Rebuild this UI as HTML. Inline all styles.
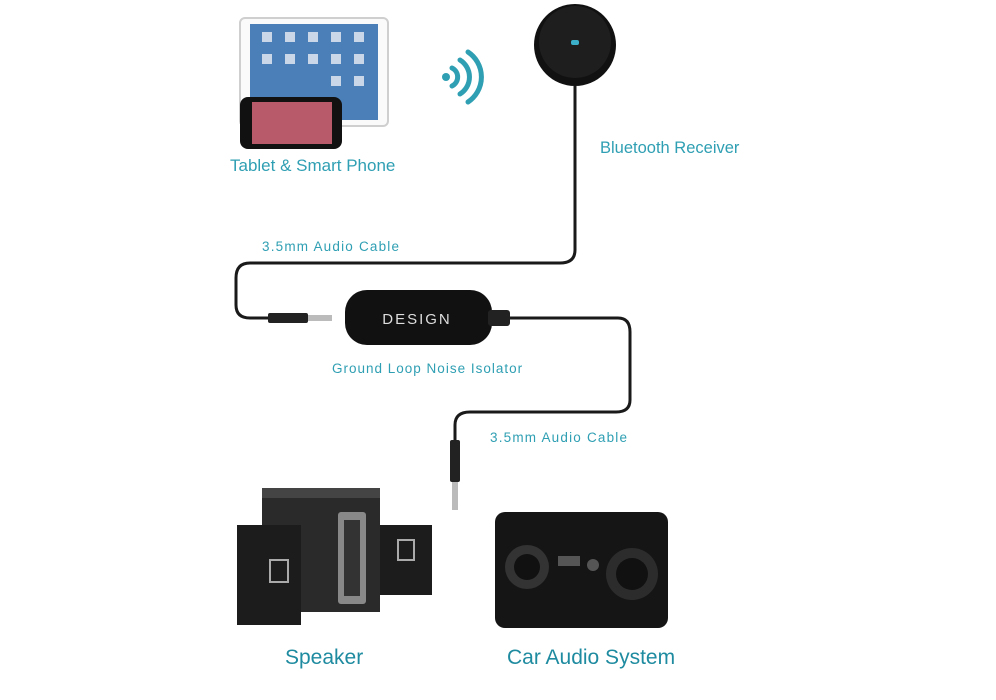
<!DOCTYPE html>
<html><head><meta charset="utf-8"><style>
html,body{margin:0;padding:0;background:#fff;}
svg{display:block}
text{font-family:"Liberation Sans",sans-serif;fill:#2f9fb3}
</style></head><body>
<svg width="996" height="700" viewBox="0 0 996 700" xmlns="http://www.w3.org/2000/svg">
<rect width="996" height="700" fill="#fff"/>
<!-- tablet -->
<rect x="240" y="18" width="148" height="108" rx="5" fill="#fafafa" stroke="#cfcfcf" stroke-width="2"/>
<rect x="250" y="24" width="128" height="96" fill="#4a7fb8"/>
<g fill="#e9eef5" opacity="0.8">
<rect x="262" y="32" width="10" height="10"/><rect x="285" y="32" width="10" height="10"/><rect x="308" y="32" width="10" height="10"/><rect x="331" y="32" width="10" height="10"/><rect x="354" y="32" width="10" height="10"/>
<rect x="262" y="54" width="10" height="10"/><rect x="285" y="54" width="10" height="10"/><rect x="308" y="54" width="10" height="10"/><rect x="331" y="54" width="10" height="10"/><rect x="354" y="54" width="10" height="10"/>
<rect x="331" y="76" width="10" height="10"/><rect x="354" y="76" width="10" height="10"/>
</g>
<!-- phone -->
<rect x="240" y="97" width="102" height="52" rx="8" fill="#111"/>
<rect x="252" y="102" width="80" height="42" fill="#b85a6a"/>
<!-- wifi -->
<g fill="none" stroke="#2f9fb3" stroke-width="5" stroke-linecap="round">
<path d="M452 68 a10 10 0 0 1 0 18"/>
<path d="M460 60 a20 20 0 0 1 0 34"/>
<path d="M468 52 a30 30 0 0 1 0 50"/>
</g>
<circle cx="446" cy="77" r="4" fill="#2f9fb3"/>
<!-- receiver -->
<circle cx="575" cy="45" r="41" fill="#111"/>
<circle cx="575" cy="42" r="36" fill="#1e1e1e"/>
<rect x="571" y="40" width="8" height="5" rx="2" fill="#3bb0c8"/>
<!-- cables -->
<g fill="none" stroke="#1a1a1a" stroke-width="3">
<path d="M575 86 L575 250 Q575 263 560 263 L250 263 Q236 263 236 278 L236 305 Q236 318 250 318 L272 318"/>
<path d="M488 318 L618 318 Q630 318 630 332 L630 400 Q630 412 616 412 L470 412 Q455 412 455 425 L455 445"/>
</g>
<!-- jack 1 -->
<rect x="268" y="313" width="40" height="10" rx="2" fill="#222"/>
<rect x="308" y="315" width="24" height="6" fill="#bbb"/>
<!-- isolator -->
<rect x="345" y="290" width="147" height="55" rx="22" fill="#111"/>
<rect x="488" y="310" width="22" height="16" rx="3" fill="#222"/>
<text x="417" y="324" text-anchor="middle" font-size="15" letter-spacing="2" style="fill:#ddd">DESIGN</text>
<!-- jack 2 -->
<rect x="450" y="440" width="10" height="42" rx="2" fill="#222"/>
<rect x="452" y="482" width="6" height="28" fill="#bbb"/>
<!-- labels -->
<text x="230" y="171" font-size="17">Tablet &amp; Smart Phone</text>
<text x="600" y="153" font-size="16.5">Bluetooth Receiver</text>
<text x="262" y="251" font-size="13.5" letter-spacing="1.2">3.5mm Audio Cable</text>
<text x="332" y="373" font-size="13.5" letter-spacing="1">Ground Loop Noise Isolator</text>
<text x="490" y="442" font-size="13.5" letter-spacing="1.2">3.5mm Audio Cable</text>
<text x="285" y="664" font-size="21" style="fill:#1f8ba0">Speaker</text>
<text x="507" y="664" font-size="21" style="fill:#1f8ba0">Car Audio System</text>
<!-- speakers -->
<rect x="262" y="488" width="118" height="124" fill="#2a2a2a"/>
<rect x="262" y="488" width="118" height="10" fill="#444"/>
<rect x="338" y="512" width="28" height="92" rx="3" fill="#888"/>
<rect x="344" y="520" width="16" height="76" fill="#333"/>
<rect x="237" y="525" width="64" height="100" fill="#1c1c1c"/>
<rect x="270" y="560" width="18" height="22" fill="none" stroke="#aaa" stroke-width="2"/>
<rect x="380" y="525" width="52" height="70" fill="#1c1c1c"/>
<rect x="398" y="540" width="16" height="20" fill="none" stroke="#aaa" stroke-width="2"/>
<!-- car panel -->
<rect x="495" y="512" width="173" height="116" rx="10" fill="#151515"/>
<circle cx="527" cy="567" r="22" fill="#333"/><circle cx="527" cy="567" r="13" fill="#111"/>
<rect x="558" y="556" width="22" height="10" fill="#555"/>
<circle cx="593" cy="565" r="6" fill="#555"/>
<circle cx="632" cy="574" r="26" fill="#2c2c2c"/><circle cx="632" cy="574" r="16" fill="#111"/>
</svg>
</body></html>
